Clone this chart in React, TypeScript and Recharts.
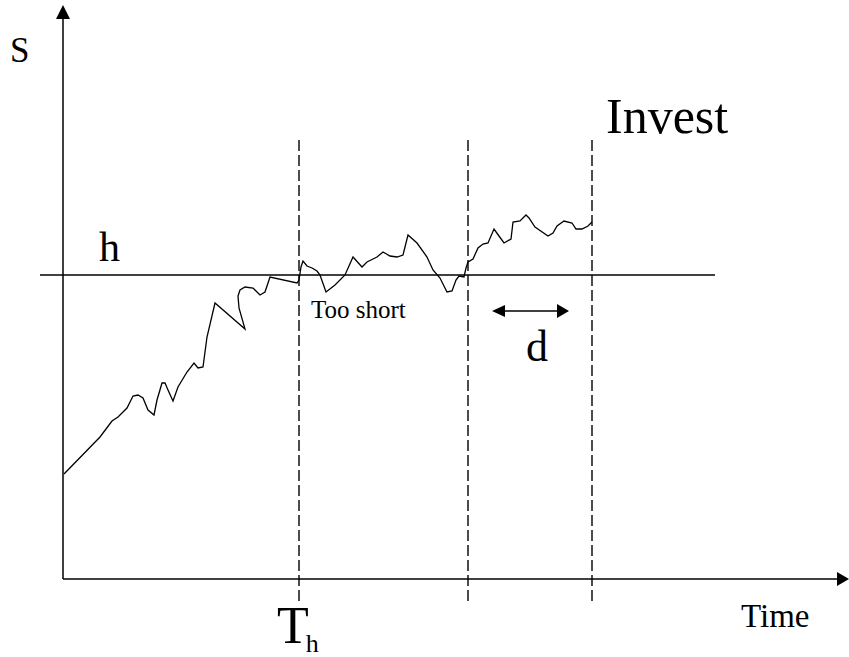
import { LineChart, Line, XAxis, YAxis, ReferenceLine, ReferenceDot } from 'recharts'

// time / price readings (plot units: time 0..785, price 0..574)
const TIME = [
  1, 37, 49, 55, 64, 70, 75, 80, 85, 91, 94, 99, 102, 105, 110, 115, 124, 131, 135, 140,
  144, 152, 182, 176, 175, 177, 182, 190, 197, 202, 207, 234, 236, 238, 240, 244, 249, 254,
  257, 263, 272, 282, 290, 299, 304, 314, 320, 327, 334, 340, 345, 354, 364, 370, 377, 384,
  389, 393, 396, 401, 403, 405, 410, 415, 420, 425, 431, 436, 441, 448, 450, 457, 463, 466,
  472, 485, 490, 494, 501, 509, 513, 519, 525, 529,
]
const PRICE = [
  105, 142, 158, 162, 171, 183, 184, 181, 169, 164, 179, 196, 196, 189, 178, 192, 207, 216, 211, 212,
  242, 276, 250, 271, 283, 289, 292, 291, 284, 287, 302, 296, 299, 312, 318, 313, 311, 308,
  304, 287, 294, 304, 322, 312, 317, 322, 327, 323, 322, 324, 344, 336, 322, 309, 301, 287,
  288, 299, 303, 302, 311, 317, 320, 331, 335, 336, 350, 343, 336, 340, 357, 358, 364, 361,
  352, 343, 346, 353, 358, 356, 350, 350, 353, 357,
]

const THRESHOLD = 304 // h
const THRESHOLD_SPAN = [-23, 652]
const MARKERS = [236, 405, 529] // T_h, failed run, invest
const MARKER_SPAN = [-22, 440]
const WINDOW = { from: 429, to: 506, level: 268 } // d
const X_MAX = 785
const Y_MAX = 574

const data = TIME.map((t, i) => ({ t, s: PRICE[i] }))

const FONT = '"Liberation Serif", "Times New Roman", serif'

const label = (text: string, size: number) => (p: any) => (
  <text x={p.cx} y={p.cy} fontFamily={FONT} fontSize={size} fill="#000">
    {text}
  </text>
)

const arrowUp = (p: any) => (
  <polygon points={`${p.cx},${p.cy} ${p.cx - 7},${p.cy + 14} ${p.cx + 7},${p.cy + 14}`} fill="#000" />
)
const arrowRight = (p: any) => (
  <polygon points={`${p.cx},${p.cy} ${p.cx - 12},${p.cy - 7} ${p.cx - 12},${p.cy + 7}`} fill="#000" />
)
const arrowLeft = (p: any) => (
  <polygon points={`${p.cx},${p.cy} ${p.cx + 13},${p.cy - 6} ${p.cx + 13},${p.cy + 6}`} fill="#000" />
)

export default function App() {
  return (
    <div style={{ position: 'absolute', left: 0, top: 0, background: '#fff' }}>
      <LineChart width={849} height={657} data={data} margin={{ top: 5, right: 1, bottom: 78, left: 63 }}>
        <XAxis type="number" dataKey="t" domain={[0, X_MAX]} allowDataOverflow hide />
        <YAxis type="number" domain={[0, Y_MAX]} allowDataOverflow hide />

        {/* axes with arrowheads */}
        <ReferenceLine segment={[{ x: 0, y: 0 }, { x: X_MAX - 10, y: 0 }]} stroke="#000" strokeWidth={1.5} ifOverflow="visible" />
        <ReferenceLine segment={[{ x: 0, y: 0 }, { x: 0, y: Y_MAX - 12 }]} stroke="#000" strokeWidth={1.5} ifOverflow="visible" />
        <ReferenceDot x={X_MAX + 1} y={0} shape={arrowRight} ifOverflow="visible" />
        <ReferenceDot x={0} y={Y_MAX} shape={arrowUp} ifOverflow="visible" />

        {/* threshold h */}
        <ReferenceLine
          segment={[{ x: THRESHOLD_SPAN[0], y: THRESHOLD }, { x: THRESHOLD_SPAN[1], y: THRESHOLD }]}
          stroke="#000"
          strokeWidth={1.3}
          ifOverflow="visible"
        />

        {MARKERS.map((m) => (
          <ReferenceLine
            key={m}
            segment={[{ x: m, y: MARKER_SPAN[0] }, { x: m, y: MARKER_SPAN[1] }]}
            stroke="#000"
            strokeWidth={1.4}
            strokeDasharray="11 4"
            ifOverflow="visible"
          />
        ))}

        {/* d window arrow */}
        <ReferenceLine
          segment={[{ x: WINDOW.from + 6, y: WINDOW.level }, { x: WINDOW.to - 6, y: WINDOW.level }]}
          stroke="#000"
          strokeWidth={1.6}
          ifOverflow="visible"
        />
        <ReferenceDot x={WINDOW.from} y={WINDOW.level} shape={arrowLeft} ifOverflow="visible" />
        <ReferenceDot x={WINDOW.to} y={WINDOW.level} shape={arrowRight} ifOverflow="visible" />

        <Line type="linear" dataKey="s" stroke="#000" strokeWidth={1.3} dot={false} isAnimationActive={false} />

        {/* text */}
        <ReferenceDot x={-53} y={517} shape={label('S', 35)} ifOverflow="visible" />
        <ReferenceDot x={36} y={318} shape={label('h', 42)} ifOverflow="visible" />
        <ReferenceDot x={543} y={446} shape={label('Invest', 50)} ifOverflow="visible" />
        <ReferenceDot x={248} y={261} shape={label('Too short', 25)} ifOverflow="visible" />
        <ReferenceDot x={463} y={218} shape={label('d', 44)} ifOverflow="visible" />
        <ReferenceDot x={678} y={-48} shape={label('Time', 33)} ifOverflow="visible" />
        <ReferenceDot
          x={214}
          y={-64}
          ifOverflow="visible"
          shape={(p: any) => (
            <text x={p.cx} y={p.cy} fontFamily={FONT} fontSize={52} fill="#000">
              T
              <tspan dx={-3} dy={9} fontSize={26}>
                h
              </tspan>
            </text>
          )}
        />
      </LineChart>
    </div>
  )
}
